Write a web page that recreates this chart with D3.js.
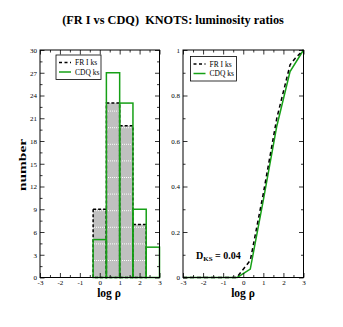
<!DOCTYPE html>
<html>
<head>
<meta charset="utf-8">
<script src="https://cdn.jsdelivr.net/npm/d3@7"></script>
<style>
  body { margin: 0; background: #fff; }
  svg text { font-family: "Liberation Serif", "Times New Roman", serif; white-space: pre; }
</style>
</head>
<body>
<div id="chart"></div>
<script>
// histogram bins (log rho), counts per bin
const binEdges = [-3, -2.333, -1.667, -1, -0.333, 0.333, 1, 1.667, 2.333, 3]
const frCounts = [0, 0, 0, 0, 9, 23, 20, 7, 0]
const cdqCounts = [0, 0, 0, 0, 5, 27, 23, 9, 4]
// cumulative distributions
const frCdfX = [-3, -0.33, 0.35, 1.0, 1.67, 2.33, 2.6, 3]
const frCdfY = [0, 0, 0.075, 0.37, 0.70, 0.935, 0.965, 1]
const cdqCdfX = [-3, -0.3, 0.35, 1.0, 1.67, 2.33, 3]
const cdqCdfY = [0, 0, 0.037, 0.34, 0.665, 0.905, 1]
const xTicks = [-3, -2, -1, 0, 1, 2, 3]
const histYTicks = [0, 3, 6, 9, 12, 15, 18, 21, 24, 27, 30]
const cdfYTicks = [0, 0.2, 0.4, 0.6, 0.8, 1]
const legendNames = ["FR I ks", "CDQ ks"]

const width = 343, height = 327
const green = "#16a016"
const yTop = 50, yBottom = 277.5

const svg = d3.select("#chart").append("svg")
  .attr("width", width).attr("height", height)

const defs = svg.append("defs")
const pat = defs.append("pattern")
  .attr("id", "hatch").attr("patternUnits", "userSpaceOnUse")
  .attr("x", 0).attr("y", 11).attr("width", 4).attr("height", 16.6)
pat.append("rect").attr("width", 4).attr("height", 16.6).attr("fill", "#c0c0c0")
pat.append("line").attr("x1", 0).attr("x2", 4).attr("y1", 0.5).attr("y2", 0.5)
  .attr("stroke", "#fff").attr("stroke-width", 1).attr("stroke-dasharray", "1,1")

svg.append("text")
  .attr("x", 173).attr("y", 24).attr("text-anchor", "middle")
  .attr("font-size", 12.3).attr("font-weight", "bold")
  .text("(FR I vs CDQ)  KNOTS: luminosity ratios")

function frame(g, x, y, yMajor, yMinor, yFmt) {
  const [x0, x1] = x.range()
  const xMinor = d3.range(-2.5, 3, 1)
  g.append("g").attr("transform", `translate(0,${yBottom})`)
    .call(d3.axisBottom(x).tickValues(xTicks).tickSize(-4.5).tickPadding(3).tickFormat(d => String(d)))
  g.append("g").attr("transform", `translate(0,${yBottom})`)
    .call(d3.axisBottom(x).tickValues(xMinor).tickSize(-2.5).tickFormat(""))
  g.append("g").attr("transform", `translate(0,${yTop})`)
    .call(d3.axisTop(x).tickValues(xTicks).tickSize(-4.5).tickFormat(""))
  g.append("g").attr("transform", `translate(0,${yTop})`)
    .call(d3.axisTop(x).tickValues(xMinor).tickSize(-2.5).tickFormat(""))
  g.append("g").attr("transform", `translate(${x0},0)`)
    .call(d3.axisLeft(y).tickValues(yMajor).tickSize(-4.5).tickPadding(3).tickFormat(yFmt))
  g.append("g").attr("transform", `translate(${x0},0)`)
    .call(d3.axisLeft(y).tickValues(yMinor).tickSize(-2.5).tickFormat(""))
  g.append("g").attr("transform", `translate(${x1},0)`)
    .call(d3.axisRight(y).tickValues(yMajor).tickSize(-4.5).tickFormat(""))
  g.append("g").attr("transform", `translate(${x1},0)`)
    .call(d3.axisRight(y).tickValues(yMinor).tickSize(-2.5).tickFormat(""))
  g.selectAll(".domain").remove()
  g.selectAll(".tick line").attr("stroke", "#000").attr("stroke-width", 0.8)
  g.selectAll(".tick text").attr("font-size", 7).attr("font-family", "Liberation Serif").attr("fill", "#000")
  g.append("rect").attr("x", x0).attr("y", yTop).attr("width", x1 - x0).attr("height", yBottom - yTop)
    .attr("fill", "none").attr("stroke", "#000").attr("stroke-width", 1)
}

function legend(g, lx, ly, w) {
  g.append("rect").attr("x", lx).attr("y", ly).attr("width", w).attr("height", 24.5)
    .attr("fill", "#fff").attr("stroke", "#000").attr("stroke-width", 0.8)
  const rows = [{ c: "#000", d: "3,2.5" }, { c: green, d: null }]
  rows.forEach((r, i) => {
    const yy = ly + 7.5 + i * 9.5
    g.append("line").attr("x1", lx + 3).attr("x2", lx + 15).attr("y1", yy).attr("y2", yy)
      .attr("stroke", r.c).attr("stroke-width", 1.5).attr("stroke-dasharray", r.d)
    g.append("text").attr("x", lx + 19).attr("y", yy + 2.5).attr("font-size", 7.5)
      .text(legendNames[i])
  })
}

// ---------- left panel: histograms ----------
const xL = d3.scaleLinear().domain([-3, 3]).range([40, 159.5])
const yL = d3.scaleLinear().domain([0, 30]).range([yBottom, yTop])
const gL = svg.append("g")

const bins = frCounts.map((c, i) => ({ x0: binEdges[i], x1: binEdges[i + 1], fr: c, cdq: cdqCounts[i] }))
gL.selectAll(".fr").data(bins).join("rect").attr("class", "fr")
  .attr("x", d => xL(d.x0)).attr("width", d => xL(d.x1) - xL(d.x0))
  .attr("y", d => yL(d.fr)).attr("height", d => yL(0) - yL(d.fr))
  .attr("fill", "url(#hatch)").attr("stroke", "#000").attr("stroke-width", 1.5)
  .attr("stroke-dasharray", "3,2")
gL.selectAll(".cdq").data(bins).join("rect").attr("class", "cdq")
  .attr("x", d => xL(d.x0)).attr("width", d => xL(d.x1) - xL(d.x0))
  .attr("y", d => yL(d.cdq)).attr("height", d => yL(0) - yL(d.cdq))
  .attr("fill", "none").attr("stroke", green).attr("stroke-width", 1.5)

frame(gL, xL, yL, histYTicks, d3.range(1.5, 30, 3), d => String(d))
legend(gL, 56, 55, 45)

gL.append("text").attr("x", 109).attr("y", 297).attr("text-anchor", "middle")
  .attr("font-size", 11.5).attr("font-weight", "bold").text("log ρ")
gL.append("text").attr("transform", "translate(26,165) rotate(-90)").attr("text-anchor", "middle")
  .attr("font-size", 11).attr("font-weight", "bold")
  .attr("textLength", 52).attr("lengthAdjust", "spacingAndGlyphs").text("number")

// ---------- right panel: cumulative ----------
const xR = d3.scaleLinear().domain([-3, 3]).range([183, 303.5])
const yR = d3.scaleLinear().domain([0, 1]).range([yBottom, yTop])
const gR = svg.append("g")

const line = d3.line().x(d => xR(d[0])).y(d => yR(d[1]))
gR.append("path").datum(d3.zip(cdqCdfX, cdqCdfY)).attr("d", line)
  .attr("fill", "none").attr("stroke", green).attr("stroke-width", 1.5)
gR.append("path").datum(d3.zip(frCdfX, frCdfY)).attr("d", line)
  .attr("fill", "none").attr("stroke", "#000").attr("stroke-width", 1.5).attr("stroke-dasharray", "4,3")

frame(gR, xR, yR, cdfYTicks, d3.range(0.1, 1, 0.2), d => d === 0 ? "0" : d === 1 ? "1" : d.toFixed(1))
legend(gR, 190.5, 56.5, 46)

gR.append("text").attr("x", 243).attr("y", 297).attr("text-anchor", "middle")
  .attr("font-size", 11.5).attr("font-weight", "bold").text("log ρ")
const dks = gR.append("text").attr("x", 196).attr("y", 258.5).attr("font-size", 10).attr("font-weight", "bold")
dks.append("tspan").text("D")
dks.append("tspan").attr("font-size", 7).attr("dy", 2.5).text("KS")
dks.append("tspan").attr("dy", -2.5).text(" = 0.04")
</script>
</body>
</html>
